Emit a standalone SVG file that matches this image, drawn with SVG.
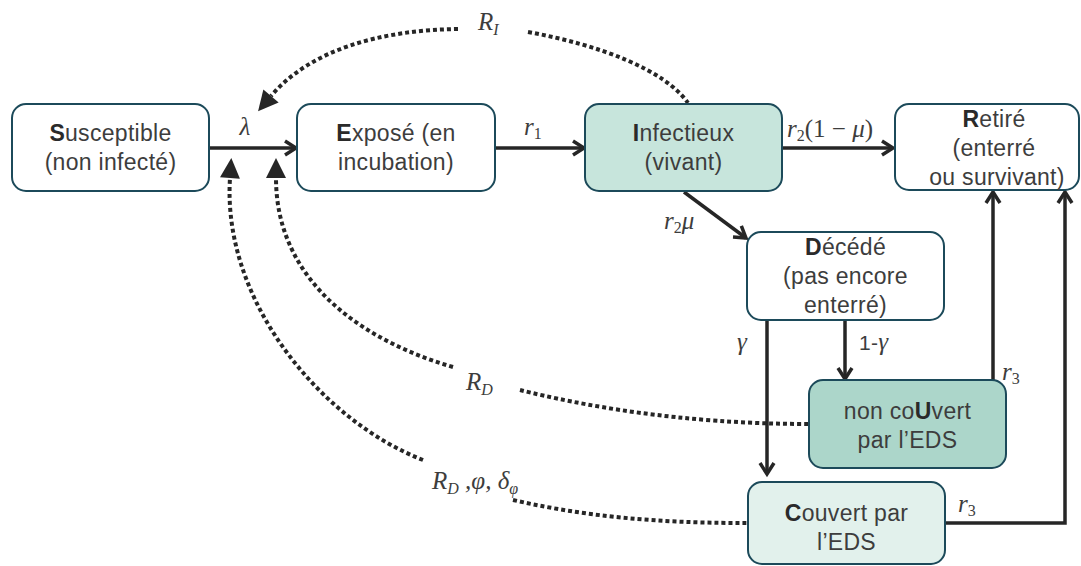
<svg xmlns="http://www.w3.org/2000/svg" width="1081" height="566" viewBox="0 0 1081 566">
<style>
.box{stroke:#1c4a5a;stroke-width:2}
.t{font-family:"Liberation Sans",Arial,sans-serif;font-size:23px;fill:#3d3d3d;text-anchor:middle;letter-spacing:0.3px}
.b{font-weight:bold;fill:#2a2a2a}
.m{font-family:"Liberation Serif","Times New Roman",serif;font-style:italic;font-size:25px;fill:#3d3d3d}
.up{font-style:normal}
.s{font-size:16px}
.solid{fill:none;stroke:#262626;stroke-width:3.5}
.dot{fill:none;stroke:#262626;stroke-width:4;stroke-dasharray:4 3}
</style>
<defs>
<marker id="open" markerUnits="userSpaceOnUse" markerWidth="16" markerHeight="18" refX="12" refY="8" orient="auto" overflow="visible">
<path d="M1,1 L12,8 L1,15" fill="none" stroke="#262626" stroke-width="3.5"/>
</marker>
<marker id="tri" markerUnits="userSpaceOnUse" markerWidth="22" markerHeight="22" refX="0" refY="10" orient="auto" overflow="visible">
<path d="M0,0 L20,10 L0,20 z" fill="#262626"/>
</marker>
</defs>

<g id="connectors">
<path class="solid" d="M209 148 L296 148" marker-end="url(#open)"/>
<path class="solid" d="M495 148 L584 148" marker-end="url(#open)"/>
<path class="solid" d="M782 148 L893 148" marker-end="url(#open)"/>
<path class="solid" d="M684 192 L746 238" marker-end="url(#open)"/>
<path class="solid" d="M845 320 L845 379" marker-end="url(#open)"/>
<path class="solid" d="M767 320 L767 474" marker-end="url(#open)"/>
<path class="solid" d="M993 380 L993 192" marker-end="url(#open)"/>
<path class="solid" d="M945 523 L1065 523 L1065 192" marker-end="url(#open)"/>

<path class="dot" d="M458 29 C380 30 310 50 271 96" marker-end="url(#tri)"/>
<path class="dot" d="M528 32 C600 45 665 70 688 103"/>

<path class="dot" d="M453 367 C360 340 276 280 276 178" marker-end="url(#tri)"/>
<path class="dot" d="M520 390 C580 405 680 424 808 424"/>

<path class="dot" d="M423 460 C320 420 222 300 230 178" marker-end="url(#tri)"/>
<path class="dot" d="M513 500 C600 520 680 523 747 523"/>

<text class="m" x="245" y="135" text-anchor="middle">λ</text>
<text class="m" x="524" y="135">r<tspan class="up s" dy="4">1</tspan></text>
<text class="m" x="787" y="137">r<tspan class="up s" dy="4">2</tspan><tspan class="up" dy="-4">(1 − </tspan>μ<tspan class="up">)</tspan></text>
<text class="m" x="664" y="229">r<tspan class="up s" dy="4">2</tspan><tspan dy="-4">μ</tspan></text>
<text class="m" x="742" y="350" text-anchor="middle">γ</text>
<text x="859" y="350"><tspan class="t" style="text-anchor:start;font-size:21px">1-</tspan><tspan class="m">γ</tspan></text>
<text class="m" x="1002" y="380">r<tspan class="up s" dy="4">3</tspan></text>
<text class="m" x="958" y="512">r<tspan class="up s" dy="4">3</tspan></text>
<text class="m" x="478" y="30">R<tspan class="s" dy="5">I</tspan></text>
<text class="m" x="466" y="390">R<tspan class="s" dy="5">D</tspan></text>
<text class="m" x="432" y="489">R<tspan class="s" dy="5">D</tspan><tspan dy="-5"> ,φ, δ</tspan><tspan class="s" dy="5">φ</tspan></text>
</g>

<g id="node-S">
<rect class="box" x="12" y="104" width="197" height="87" rx="14" fill="#ffffff"/>
<text class="t" x="110.5" y="141"><tspan class="b">S</tspan>usceptible</text>
<text class="t" x="110.5" y="170">(non infecté)</text>
</g>
<g id="node-E">
<rect class="box" x="297" y="104" width="198" height="87" rx="14" fill="#ffffff"/>
<text class="t" x="396" y="141"><tspan class="b">E</tspan>xposé (en</text>
<text class="t" x="396" y="170">incubation)</text>
</g>
<g id="node-I">
<rect class="box" x="585" y="104" width="197" height="87" rx="14" fill="#c7e5dc"/>
<text class="t" x="683.5" y="141"><tspan class="b">I</tspan>nfectieux</text>
<text class="t" x="683.5" y="170">(vivant)</text>
</g>
<g id="node-R">
<rect class="box" x="895" y="104" width="184" height="86" rx="14" fill="#ffffff"/>
<text class="t" x="994" y="127"><tspan class="b">R</tspan>etiré</text>
<text class="t" x="994" y="156">(enterré</text>
<text class="t" x="997" y="185">ou survivant)</text>
</g>
<g id="node-D">
<rect class="box" x="747" y="232" width="197" height="88" rx="14" fill="#ffffff"/>
<text class="t" x="845.5" y="255"><tspan class="b">D</tspan>écédé</text>
<text class="t" x="845.5" y="284">(pas encore</text>
<text class="t" x="845.5" y="313">enterré)</text>
</g>
<g id="node-U">
<rect class="box" x="809" y="380" width="197" height="88" rx="14" fill="#acd6ca"/>
<text class="t" x="907.5" y="419">non co<tspan class="b">U</tspan>vert</text>
<text class="t" x="907.5" y="448">par l’EDS</text>
</g>
<g id="node-C">
<rect class="box" x="748" y="482" width="197" height="82" rx="14" fill="#e2f1ec"/>
<text class="t" x="846.5" y="521"><tspan class="b">C</tspan>ouvert par</text>
<text class="t" x="846.5" y="550">l’EDS</text>
</g>
</svg>
